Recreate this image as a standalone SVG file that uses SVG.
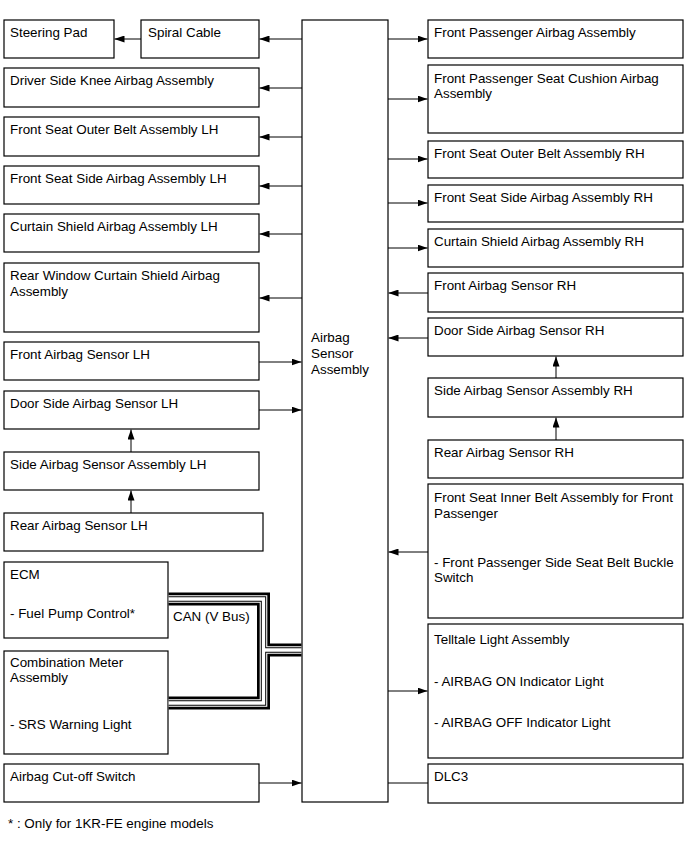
<svg xmlns="http://www.w3.org/2000/svg" width="689" height="853" viewBox="0 0 689 853">
<defs>
<marker id="ah" markerWidth="10" markerHeight="7" refX="10" refY="3.5" orient="auto" markerUnits="userSpaceOnUse">
<path d="M0,0 L10,3.5 L0,7 z" fill="#000"/>
</marker>
<style>
.box{fill:#fff;stroke:#000;stroke-width:1.2}
text{font-family:"Liberation Sans",Arial,sans-serif;font-size:13.4px;fill:#000}
.c{stroke:#000;stroke-width:1;fill:none}
.a{marker-end:url(#ah)}
.bus{fill:none;stroke-linejoin:miter;stroke-linecap:butt}
</style>
</defs>
<rect width="689" height="853" fill="#fff"/>

<g id="airbag-sensor-assembly"><rect class="box" x="302" y="20" width="86" height="782"/><text x="311" y="342">Airbag</text><text x="311" y="358">Sensor</text><text x="311" y="374">Assembly</text></g>

<g id="steering-pad"><rect class="box" x="4" y="20" width="110" height="38"/><text x="10" y="37">Steering Pad</text></g>
<g id="spiral-cable"><rect class="box" x="141" y="20" width="118" height="38"/><text x="148" y="37">Spiral Cable</text></g>
<g id="driver-knee"><rect class="box" x="4" y="68" width="255" height="39"/><text x="10" y="85">Driver Side Knee Airbag Assembly</text></g>
<g id="outer-belt-lh"><rect class="box" x="4" y="117" width="255" height="39"/><text x="10" y="134">Front Seat Outer Belt Assembly LH</text></g>
<g id="side-airbag-lh"><rect class="box" x="4" y="166" width="255" height="38"/><text x="10" y="183">Front Seat Side Airbag Assembly LH</text></g>
<g id="curtain-lh"><rect class="box" x="4" y="214" width="255" height="38"/><text x="10" y="231">Curtain Shield Airbag Assembly LH</text></g>
<g id="rear-window-curtain"><rect class="box" x="4" y="263" width="255" height="69"/><text x="10" y="280">Rear Window Curtain Shield Airbag</text><text x="10" y="296">Assembly</text></g>
<g id="front-sensor-lh"><rect class="box" x="4" y="342" width="255" height="38"/><text x="10" y="359">Front Airbag Sensor LH</text></g>
<g id="door-sensor-lh"><rect class="box" x="4" y="391" width="255" height="38"/><text x="10" y="408">Door Side Airbag Sensor LH</text></g>
<g id="side-sensor-lh"><rect class="box" x="4" y="452" width="255" height="38"/><text x="10" y="469">Side Airbag Sensor Assembly LH</text></g>
<g id="rear-sensor-lh"><rect class="box" x="4" y="513" width="259" height="38"/><text x="10" y="530">Rear Airbag Sensor LH</text></g>
<g id="ecm"><rect class="box" x="4" y="562" width="164" height="76"/><text x="10" y="579">ECM</text><text x="10" y="618">- Fuel Pump Control*</text></g>
<g id="combination-meter"><rect class="box" x="4" y="651" width="164" height="103"/><text x="10" y="667">Combination Meter</text><text x="10" y="682">Assembly</text><text x="10" y="729">- SRS Warning Light</text></g>
<g id="cutoff-switch"><rect class="box" x="4" y="764" width="255" height="38"/><text x="10" y="781">Airbag Cut-off Switch</text></g>

<g id="fp-airbag"><rect class="box" x="428" y="20" width="255" height="38"/><text x="434" y="37">Front Passenger Airbag Assembly</text></g>
<g id="fp-cushion"><rect class="box" x="428" y="65" width="255" height="68"/><text x="434" y="83">Front Passenger Seat Cushion Airbag</text><text x="434" y="98">Assembly</text></g>
<g id="outer-belt-rh"><rect class="box" x="428" y="141" width="255" height="37"/><text x="434" y="158">Front Seat Outer Belt Assembly RH</text></g>
<g id="side-airbag-rh"><rect class="box" x="428" y="185" width="255" height="37"/><text x="434" y="202">Front Seat Side Airbag Assembly RH</text></g>
<g id="curtain-rh"><rect class="box" x="428" y="229" width="255" height="38"/><text x="434" y="246">Curtain Shield Airbag Assembly RH</text></g>
<g id="front-sensor-rh"><rect class="box" x="428" y="273" width="255" height="39"/><text x="434" y="290">Front Airbag Sensor RH</text></g>
<g id="door-sensor-rh"><rect class="box" x="428" y="318" width="255" height="38"/><text x="434" y="335">Door Side Airbag Sensor RH</text></g>
<g id="side-sensor-rh"><rect class="box" x="428" y="378" width="255" height="39"/><text x="434" y="395">Side Airbag Sensor Assembly RH</text></g>
<g id="rear-sensor-rh"><rect class="box" x="428" y="440" width="255" height="38"/><text x="434" y="457">Rear Airbag Sensor RH</text></g>
<g id="inner-belt"><rect class="box" x="428" y="484" width="255" height="134"/><text x="434" y="502">Front Seat Inner Belt Assembly for Front</text><text x="434" y="518">Passenger</text><text x="434" y="567">- Front Passenger Side Seat Belt Buckle</text><text x="434" y="582">Switch</text></g>
<g id="telltale"><rect class="box" x="428" y="624" width="255" height="134"/><text x="434" y="644">Telltale Light Assembly</text><text x="434" y="686">- AIRBAG ON Indicator Light</text><text x="434" y="727">- AIRBAG OFF Indicator Light</text></g>
<g id="dlc3"><rect class="box" x="428" y="764" width="255" height="39"/><text x="434" y="781">DLC3</text></g>

<g id="connectors">
<line class="c a" x1="141" y1="39" x2="114.5" y2="39"/>
<line class="c a" x1="302" y1="39" x2="259.5" y2="39"/>
<line class="c a" x1="302" y1="88" x2="259.5" y2="88"/>
<line class="c a" x1="302" y1="137" x2="259.5" y2="137"/>
<line class="c a" x1="302" y1="186" x2="259.5" y2="186"/>
<line class="c a" x1="302" y1="234" x2="259.5" y2="234"/>
<line class="c a" x1="302" y1="298" x2="259.5" y2="298"/>
<line class="c a" x1="259" y1="362" x2="301.5" y2="362"/>
<line class="c a" x1="259" y1="410" x2="301.5" y2="410"/>
<line class="c a" x1="131" y1="452" x2="131" y2="429.5"/>
<line class="c a" x1="131" y1="513" x2="131" y2="490.5"/>
<line class="c a" x1="259" y1="783" x2="301.5" y2="783"/>
<line class="c a" x1="388" y1="39" x2="427.5" y2="39"/>
<line class="c a" x1="388" y1="99" x2="427.5" y2="99"/>
<line class="c a" x1="388" y1="159" x2="427.5" y2="159"/>
<line class="c a" x1="388" y1="203" x2="427.5" y2="203"/>
<line class="c a" x1="388" y1="248" x2="427.5" y2="248"/>
<line class="c a" x1="428" y1="293" x2="388.5" y2="293"/>
<line class="c a" x1="428" y1="338" x2="388.5" y2="338"/>
<line class="c a" x1="556" y1="378" x2="556" y2="356.5"/>
<line class="c a" x1="556" y1="440" x2="556" y2="417.5"/>
<line class="c a" x1="428" y1="552" x2="388.5" y2="552"/>
<line class="c a" x1="388" y1="691" x2="427.5" y2="691"/>
<line class="c" x1="388" y1="783" x2="428" y2="783"/>
<g id="can-bus" class="bus">
<path d="M168.6,599 H263.5 V703 H168.6 M263.5,650 H301.4" stroke="#000" stroke-width="13"/>
<path d="M168.6,599 H263.5 V703 H168.6 M263.5,650 H301.4" stroke="#fff" stroke-width="7.6"/>
<path d="M168.6,599 H263.5 V703 H168.6 M263.5,650 H301.4" stroke="#000" stroke-width="5.4"/>
<path d="M168.6,599 H263.5 V703 H168.6 M263.5,650 H301.4" stroke="#fff" stroke-width="3.4"/>
</g>
</g>
<text x="173" y="621">CAN (V Bus)</text>
<text x="8" y="828">* : Only for 1KR-FE engine models</text>
</svg>
